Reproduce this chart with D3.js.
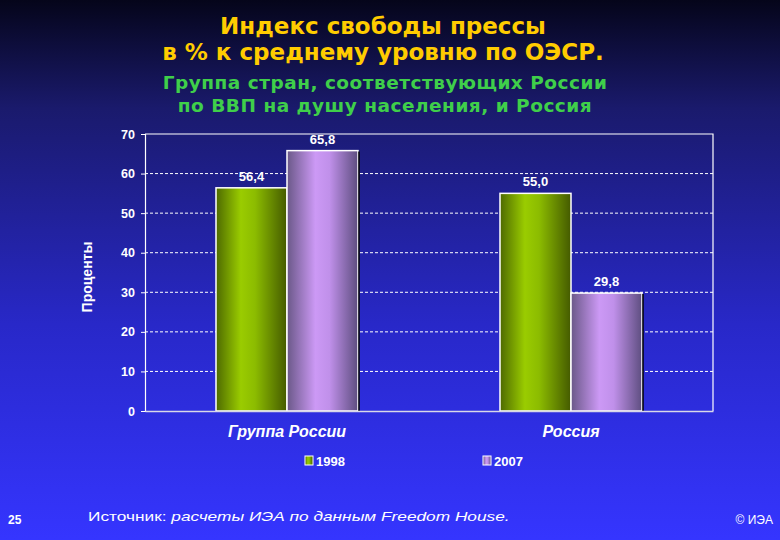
<!DOCTYPE html>
<html>
<head>
<meta charset="utf-8">
<script src="https://cdn.jsdelivr.net/npm/d3@7"></script>
<style>
  body { margin: 0; padding: 0; overflow: hidden; }
  text { font-family: Arial, "Liberation Sans", sans-serif; }
</style>
</head>
<body>
<div id="chart"></div>
<script>
// Data
const categories = ["Группа России", "Россия"];
const seriesNames = ["1998", "2007"];
const values1998 = [56.4, 55.0];
const values2007 = [65.8, 29.8];
const yTicks = [0, 10, 20, 30, 40, 50, 60, 70];

function buildChart() {
  const width = 780;
  const height = 540;
  const margin = { left: 145, right: 67, top: 134, bottom: 129 };
  const visWidth = width - margin.left - margin.right;
  const visHeight = height - margin.top - margin.bottom;

  const svg = d3.select("#chart")
    .append("svg")
    .attr("width", width)
    .attr("height", height);

  const defs = svg.append("defs");

  // Background gradient: near black at the top to bright blue at the bottom
  const bg = defs.append("linearGradient")
    .attr("id", "bg").attr("x1", 0).attr("y1", 0).attr("x2", 0).attr("y2", 1);
  bg.append("stop").attr("offset", "0%").attr("stop-color", "#05051a");
  bg.append("stop").attr("offset", "20%").attr("stop-color", "#1a1a6c");
  bg.append("stop").attr("offset", "60%").attr("stop-color", "#2828c8");
  bg.append("stop").attr("offset", "100%").attr("stop-color", "#3535ff");

  // Cylinder-like bar fills
  const green = defs.append("linearGradient").attr("id", "g1998");
  green.append("stop").attr("offset", "0%").attr("stop-color", "#4e6a00");
  green.append("stop").attr("offset", "35%").attr("stop-color", "#9acc00");
  green.append("stop").attr("offset", "55%").attr("stop-color", "#8cbc00");
  green.append("stop").attr("offset", "100%").attr("stop-color", "#445a00");

  const purple = defs.append("linearGradient").attr("id", "g2007");
  purple.append("stop").attr("offset", "0%").attr("stop-color", "#6a5888");
  purple.append("stop").attr("offset", "40%").attr("stop-color", "#cc99f5");
  purple.append("stop").attr("offset", "60%").attr("stop-color", "#c090ea");
  purple.append("stop").attr("offset", "100%").attr("stop-color", "#5e4e80");

  svg.append("rect")
    .attr("width", width).attr("height", height)
    .attr("fill", "url(#bg)");

  // Titles
  const titleLines = ["Индекс свободы прессы", "в % к среднему уровню по ОЭСР."];
  svg.selectAll(".title")
    .data(titleLines)
    .enter()
    .append("text")
    .attr("class", "title")
    .attr("x", 383)
    .attr("y", (d, i) => 34 + i * 26)
    .attr("text-anchor", "middle")
    .style("font-family", "'DejaVu Sans', Verdana, sans-serif")
    .style("font-weight", "bold")
    .style("font-size", "23px")
    .style("fill", "#ffcc00")
    .text((d) => d);

  const subLines = ["Группа стран, соответствующих России", "по ВВП на душу населения, и Россия"];
  svg.selectAll(".subtitle")
    .data(subLines)
    .enter()
    .append("text")
    .attr("class", "subtitle")
    .attr("x", 385)
    .attr("y", (d, i) => 89 + i * 23)
    .attr("text-anchor", "middle")
    .style("font-family", "'DejaVu Sans', Verdana, sans-serif")
    .style("font-weight", "bold")
    .style("font-size", "18.5px")
    .style("letter-spacing", "0.5px")
    .style("fill", "#3fcf4a")
    .text((d) => d);

  const plot = svg.append("g")
    .attr("transform", `translate(${margin.left}, ${margin.top})`);

  // Scales
  const xScale = d3.scaleBand()
    .domain(categories)
    .range([0, visWidth])
    .paddingInner(0)
    .paddingOuter(0);
  const xInner = d3.scaleBand()
    .domain(seriesNames)
    .range([xScale.bandwidth() * 0.25, xScale.bandwidth() * 0.75]);
  const yScale = d3.scaleLinear()
    .domain([0, 70])
    .range([visHeight, 0]);

  // Dashed grid lines
  plot.selectAll(".grid")
    .data(yTicks.filter((t) => t > 0 && t < 70))
    .enter()
    .append("line")
    .attr("class", "grid")
    .attr("x1", 0).attr("x2", visWidth)
    .attr("y1", (d) => yScale(d)).attr("y2", (d) => yScale(d))
    .attr("stroke", "#ffffff")
    .attr("stroke-width", 1)
    .attr("stroke-dasharray", "3,2");

  // Plot frame (top and right)
  plot.append("path")
    .attr("d", `M0,0H${visWidth}V${visHeight}`)
    .attr("fill", "none")
    .attr("stroke", "#ffffff")
    .attr("stroke-width", 1.2);

  // Bars
  const rows = categories.map((c, i) => ({ cat: c, vals: [values1998[i], values2007[i]] }));
  const groups = plot.selectAll(".group")
    .data(rows)
    .enter()
    .append("g")
    .attr("class", "group")
    .attr("transform", (d) => `translate(${xScale(d.cat)}, 0)`);

  const barData = (d) => d.vals.map((v, j) => ({ key: seriesNames[j], v }));

  groups.selectAll("rect")
    .data(barData)
    .enter()
    .append("rect")
    .attr("x", (d) => xInner(d.key))
    .attr("y", (d) => yScale(d.v))
    .attr("width", xInner.bandwidth())
    .attr("height", (d) => visHeight - yScale(d.v))
    .attr("fill", (d) => `url(#g${d.key})`)
    .attr("stroke", "#ffffff")
    .attr("stroke-width", 1.5);

  // dark shadow edge on the right of each pair
  groups.append("line")
    .attr("x1", xInner("2007") + xInner.bandwidth() + 1)
    .attr("x2", xInner("2007") + xInner.bandwidth() + 1)
    .attr("y1", (d) => yScale(d.vals[1]) + 1)
    .attr("y2", visHeight)
    .attr("stroke", "#000000")
    .attr("stroke-width", 1.5);

  groups.selectAll(".value")
    .data(barData)
    .enter()
    .append("text")
    .attr("class", "value")
    .attr("x", (d) => xInner(d.key) + xInner.bandwidth() / 2)
    .attr("y", (d) => yScale(d.v) - 7)
    .attr("text-anchor", "middle")
    .style("font-weight", "bold")
    .style("font-size", "13px")
    .style("fill", "#ffffff")
    .text((d) => d.v.toFixed(1).replace(".", ","));

  // Y axis
  const yAxis = d3.axisLeft(yScale).tickValues(yTicks).tickSize(4).tickPadding(6);
  const yG = plot.append("g").call(yAxis);
  yG.select(".domain").attr("stroke", "#ffffff").attr("stroke-width", 1.2);
  yG.selectAll(".tick line").attr("stroke", "#ffffff");
  yG.selectAll(".tick text")
    .style("fill", "#ffffff")
    .style("font-weight", "bold")
    .style("font-size", "12.5px")
    .style("font-family", "Arial, 'Liberation Sans', sans-serif");

  // X axis
  const xAxis = d3.axisBottom(xScale).tickSize(0).tickPadding(15);
  const xG = plot.append("g")
    .attr("transform", `translate(0, ${visHeight})`)
    .call(xAxis);
  xG.select(".domain").attr("stroke", "#d8d8e8").attr("stroke-width", 1.5);
  xG.selectAll(".tick text")
    .style("fill", "#ffffff")
    .style("font-weight", "bold")
    .style("font-style", "italic")
    .style("font-size", "16px")
    .style("font-family", "Arial, 'Liberation Sans', sans-serif");

  // Y axis title
  svg.append("text")
    .attr("transform", "translate(92, 277) rotate(-90)")
    .attr("text-anchor", "middle")
    .style("font-weight", "bold")
    .style("font-size", "14px")
    .style("fill", "#ffffff")
    .text("Проценты");

  // Legend
  const legendX = [305, 483];
  const legend = svg.selectAll(".legend")
    .data(seriesNames)
    .enter()
    .append("g")
    .attr("class", "legend")
    .attr("transform", (d, i) => `translate(${legendX[i]}, 456)`);
  legend.append("rect")
    .attr("width", 8).attr("height", 9)
    .attr("fill", (d) => `url(#g${d})`)
    .attr("stroke", "#ffffff")
    .attr("stroke-width", 1);
  legend.append("text")
    .attr("x", 11).attr("y", 9.5)
    .style("font-weight", "bold")
    .style("font-size", "13px")
    .style("fill", "#ffffff")
    .text((d) => d);

  // Footer
  svg.append("text")
    .attr("x", 8).attr("y", 524)
    .style("font-weight", "bold")
    .style("font-size", "12px")
    .style("fill", "#ffffff")
    .text("25");

  const src = svg.append("text")
    .attr("transform", "translate(88, 521) scale(1.28, 1)")
    .style("font-size", "13.5px")
    .style("fill", "#ffffff");
  src.append("tspan").text("Источник:  ");
  src.append("tspan").style("font-style", "italic").text("расчеты ИЭА по данным Freedom House.");

  svg.append("text")
    .attr("x", 773).attr("y", 524)
    .attr("text-anchor", "end")
    .style("font-size", "12px")
    .style("fill", "#ffffff")
    .text("© ИЭА");
}

window.onload = buildChart;
</script>
</body>
</html>
